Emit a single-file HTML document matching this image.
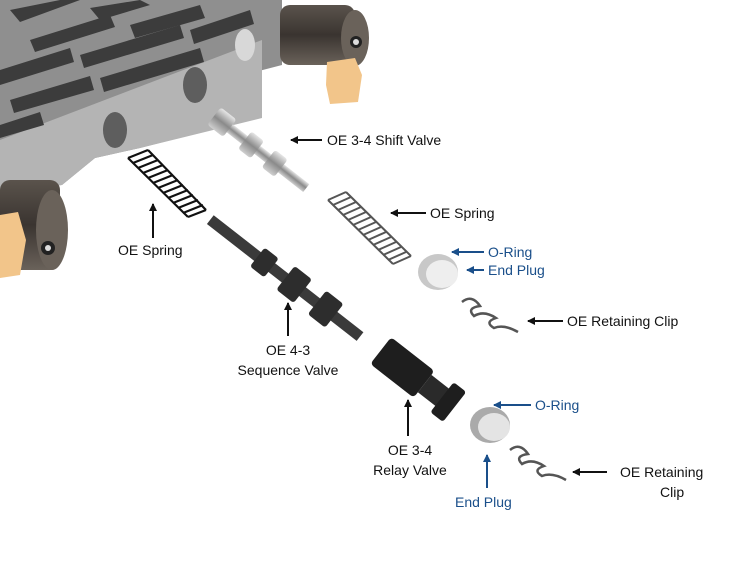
<!DOCTYPE html>
<html><head><meta charset="utf-8"><style>
html,body{margin:0;padding:0;background:#fff;}
svg{display:block;}
text{font-family:"Liberation Sans",Arial,sans-serif;font-size:14px;fill:#111;}
.b{fill:#1a4f8a;}
</style></head><body>
<svg width="750" height="580" viewBox="0 0 750 580" xmlns="http://www.w3.org/2000/svg">
<defs>
<marker id="ah" markerWidth="8" markerHeight="8" refX="7" refY="4" orient="auto" markerUnits="userSpaceOnUse"><path d="M0,0 L8,4 L0,8 Z" fill="#111"/></marker>
<marker id="ahb" markerWidth="8" markerHeight="8" refX="7" refY="4" orient="auto" markerUnits="userSpaceOnUse"><path d="M0,0 L8,4 L0,8 Z" fill="#1a4f8a"/></marker>
<linearGradient id="cyl" x1="0" y1="0" x2="0" y2="1"><stop offset="0" stop-color="#5a534c"/><stop offset="0.5" stop-color="#3a3430"/><stop offset="1" stop-color="#6a625a"/></linearGradient>
<linearGradient id="steel" x1="0" y1="0" x2="0" y2="1"><stop offset="0" stop-color="#e6e6e6"/><stop offset="0.5" stop-color="#8a8a8a"/><stop offset="1" stop-color="#cfcfcf"/></linearGradient>
</defs>
<!-- valve body -->
<polygon points="0,0 282,0 282,65 255,72 255,118 140,148 95,158 62,185 0,192" fill="#8f8f8f"/>
<polygon points="0,140 262,40 262,118 140,148 95,158 62,185 0,192" fill="#b4b4b4"/>
<g fill="#3c3c3c">
<polygon points="10,10 60,0 80,0 20,22"/>
<polygon points="90,8 140,0 150,5 100,20"/>
<polygon points="30,40 110,15 115,27 35,52"/>
<polygon points="130,25 200,5 205,18 135,38"/>
<polygon points="0,70 70,48 74,62 0,85"/>
<polygon points="80,55 180,25 184,38 84,68"/>
<polygon points="190,30 250,10 254,24 194,44"/>
<polygon points="10,100 90,76 94,90 14,113"/>
<polygon points="100,78 200,48 204,62 104,92"/>
<polygon points="0,125 40,112 44,125 0,138"/>
</g>
<ellipse cx="195" cy="85" rx="12" ry="18" fill="#5e5e5e"/>
<ellipse cx="115" cy="130" rx="12" ry="18" fill="#5e5e5e"/>
<ellipse cx="245" cy="45" rx="10" ry="16" fill="#d8d8d8"/>
<!-- right cylinder -->
<rect x="280" y="5" width="75" height="60" rx="10" fill="url(#cyl)"/>
<ellipse cx="355" cy="38" rx="14" ry="28" fill="#6a625a"/>
<circle cx="356" cy="42" r="6" fill="#222"/><circle cx="356" cy="42" r="3" fill="#ddd"/>
<polygon points="327,62 355,58 362,75 358,102 330,104 326,85" fill="#f2c58a"/>
<!-- left cylinder -->
<rect x="0" y="180" width="60" height="90" rx="10" fill="url(#cyl)"/>
<ellipse cx="52" cy="230" rx="16" ry="40" fill="#6a625a"/>
<circle cx="48" cy="248" r="7" fill="#222"/><circle cx="48" cy="248" r="3" fill="#ddd"/>
<polygon points="0,215 18,212 26,240 20,275 0,278" fill="#f2c58a"/>
<!-- shift valve -->
<g transform="rotate(38 215 118)">
<rect x="215" y="112" width="115" height="10" fill="url(#steel)"/>
<rect x="213" y="106" width="20" height="22" rx="3" fill="url(#steel)"/>
<rect x="252" y="106" width="16" height="22" rx="3" fill="url(#steel)"/>
<rect x="282" y="106" width="16" height="22" rx="3" fill="url(#steel)"/>
</g>
<!-- left black spring -->
<g stroke="#111" stroke-width="2.2" fill="none">
<path d="M128,158 l20,-8 M133,163 l20,-8 M138,168 l20,-8 M143,173 l20,-8 M148,178 l20,-8 M153,183 l20,-8 M158,188 l20,-8 M163,193 l20,-8 M168,198 l20,-8 M173,203 l20,-8 M178,208 l20,-8 M183,213 l20,-8 M188,217 l18,-7"/>
<path d="M128,158 L188,217 M148,150 L206,210"/>
</g>
<!-- right spring -->
<g stroke="#555" stroke-width="2" fill="none">
<path d="M328,200 l18,-8 M333,205 l18,-8 M338,210 l18,-8 M343,215 l18,-8 M348,220 l18,-8 M353,225 l18,-8 M358,230 l18,-8 M363,235 l18,-8 M368,240 l18,-8 M373,245 l18,-8 M378,250 l18,-8 M383,255 l18,-8 M388,260 l18,-8 M393,264 l18,-8"/>
<path d="M328,200 L393,264 M346,192 L411,256"/>
</g>
<!-- sequence valve -->
<g transform="rotate(38 210 220)">
<rect x="210" y="214" width="190" height="11" fill="#3a3a3a"/>
<rect x="270" y="208" width="18" height="24" rx="3" fill="#2d2d2d"/>
<rect x="305" y="204" width="22" height="30" rx="3" fill="#2d2d2d"/>
<rect x="345" y="204" width="22" height="30" rx="3" fill="#2d2d2d"/>
</g>
<!-- relay valve -->
<g transform="rotate(38 385 345)">
<rect x="385" y="335" width="55" height="34" rx="4" fill="#1e1e1e"/>
<rect x="440" y="340" width="35" height="22" fill="#2a2a2a"/>
<rect x="462" y="332" width="16" height="38" rx="3" fill="#1e1e1e"/>
</g>
<!-- end plugs -->
<ellipse cx="438" cy="272" rx="20" ry="18" fill="#c8c8c8"/><ellipse cx="442" cy="274" rx="16" ry="14" fill="#eee"/>
<ellipse cx="490" cy="425" rx="20" ry="18" fill="#aaa"/><ellipse cx="494" cy="427" rx="16" ry="14" fill="#e4e4e4"/>
<!-- clips -->
<path d="M462,302 q10,-8 18,4 q-14,2 -6,10 q10,-6 22,2 q-12,4 -2,10 q10,-4 24,4" stroke="#555" stroke-width="2.5" fill="none"/>
<path d="M510,450 q10,-8 18,4 q-14,2 -6,10 q10,-6 22,2 q-12,4 -2,10 q10,-4 24,4" stroke="#555" stroke-width="2.5" fill="none"/>
<!-- arrows -->
<g stroke="#111" stroke-width="2">
<line x1="322" y1="140" x2="291" y2="140" marker-end="url(#ah)"/>
<line x1="426" y1="213" x2="391" y2="213" marker-end="url(#ah)"/>
<line x1="563" y1="321" x2="528" y2="321" marker-end="url(#ah)"/>
<line x1="153" y1="238" x2="153" y2="204" marker-end="url(#ah)"/>
<line x1="288" y1="336" x2="288" y2="303" marker-end="url(#ah)"/>
<line x1="408" y1="436" x2="408" y2="400" marker-end="url(#ah)"/>
<line x1="607" y1="472" x2="573" y2="472" marker-end="url(#ah)"/>
</g>
<g stroke="#1a4f8a" stroke-width="2">
<line x1="484" y1="252" x2="452" y2="252" marker-end="url(#ahb)"/>
<line x1="484" y1="270" x2="467" y2="270" marker-end="url(#ahb)"/>
<line x1="531" y1="405" x2="494" y2="405" marker-end="url(#ahb)"/>
<line x1="487" y1="488" x2="487" y2="455" marker-end="url(#ahb)"/>
</g>
<!-- labels -->
<text x="327" y="145">OE 3-4 Shift Valve</text>
<text x="430" y="218">OE Spring</text>
<text x="488" y="257" class="b">O-Ring</text>
<text x="488" y="275" class="b">End Plug</text>
<text x="567" y="326">OE Retaining Clip</text>
<text x="118" y="255">OE Spring</text>
<text x="288" y="355" text-anchor="middle">OE 4-3</text>
<text x="288" y="375" text-anchor="middle">Sequence Valve</text>
<text x="535" y="410" class="b">O-Ring</text>
<text x="410" y="455" text-anchor="middle">OE 3-4</text>
<text x="410" y="475" text-anchor="middle">Relay Valve</text>
<text x="455" y="507" class="b">End Plug</text>
<text x="620" y="477">OE Retaining</text>
<text x="660" y="497">Clip</text>
</svg>
</body></html>
